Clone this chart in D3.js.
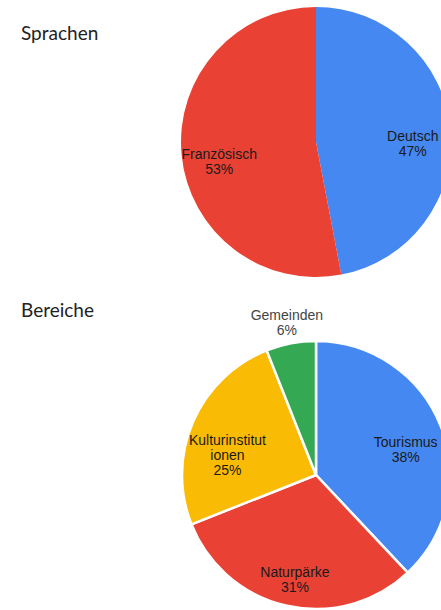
<!DOCTYPE html>
<html lang="de">
<head>
    <meta charset="utf-8">
    <script src="https://d3js.org/d3.v7.min.js"></script>
    <style>
        body { margin: 0; background: #fff; }
        .title { font-family: Lato, "Open Sans", sans-serif; font-size: 19px; fill: #222; }
        .slice-label { font-family: "Liberation Sans", Arial, sans-serif; font-size: 14px; fill: #1a1a1a; }
    </style>
</head>
<body>
    <svg id="chart" width="441" height="610"></svg>

    <script>
    // Sprachen
    const sprachenLabels = ["Deutsch", "Französisch"];
    const sprachenValues = [47, 53];

    // Bereiche
    const bereicheLabels = ["Tourismus", "Naturpärke", "Kulturinstitutionen", "Gemeinden"];
    const bereicheValues = [38, 31, 25, 6];

    const sliceColors = ["#4688f1", "#e94235", "#fabb05", "#34a853"];

    const svg = d3.select("#chart");

    // split long labels like google charts does (hard wrap by chars)
    function wrapLabel(name, maxChars) {
        const lines = [];
        for (let i = 0; i < name.length; i += maxChars) {
            lines.push(name.slice(i, i + maxChars));
        }
        return lines;
    }

    function drawPie(opts) {
        const { title, labels, values, cx, cy, r, titleY, strokeWidth } = opts;

        svg.append("text")
            .attr("class", "title")
            .attr("x", 21)
            .attr("y", titleY)
            .text(title);

        const data = labels.map((name, i) => ({ name: name, value: values[i] }));
        const total = d3.sum(values);

        const pie = d3.pie().sort(null).value(d => d.value);
        const arc = d3.arc().innerRadius(0).outerRadius(r);
        const labelArc = d3.arc().innerRadius(r * 0.72).outerRadius(r * 0.72);
        const outerArc = d3.arc().innerRadius(r * 1.16).outerRadius(r * 1.16);
        const color = d3.scaleOrdinal().domain(labels).range(sliceColors);

        const g = svg.append("g").attr("transform", `translate(${cx},${cy})`);

        g.selectAll("path")
            .data(pie(data))
            .enter().append("path")
            .attr("d", arc)
            .attr("fill", d => color(d.data.name))
            .attr("stroke", strokeWidth > 0 ? "#fff" : "none")
            .attr("stroke-width", strokeWidth);

        const lineH = 15;

        g.selectAll("text.slice-label")
            .data(pie(data))
            .enter().append("text")
            .attr("class", "slice-label")
            .attr("text-anchor", "middle")
            .each(function(d) {
                const pct = Math.round(d.data.value / total * 100);
                const lines = wrapLabel(d.data.name, 14).concat([pct + "%"]);
                const outside = pct < 10;
                const [x, y] = outside ? outerArc.centroid(d) : labelArc.centroid(d);
                // inside: first line just under the centroid; outside: whole block centred
                const y0 = outside ? y - (lines.length - 1) * lineH / 2 : y + 3;
                const t = d3.select(this);
                if (outside) t.style("fill", "#444");
                lines.forEach((line, i) => {
                    t.append("tspan")
                        .attr("x", x)
                        .attr("y", y0 + i * lineH)
                        .attr("dy", "0.35em")
                        .text(line);
                });
            });
    }

    drawPie({ title: "Sprachen", labels: sprachenLabels, values: sprachenValues,
              cx: 316, cy: 142, r: 135, titleY: 40, strokeWidth: 0 });

    drawPie({ title: "Bereiche", labels: bereicheLabels, values: bereicheValues,
              cx: 316, cy: 475, r: 134, titleY: 317, strokeWidth: 2.5 });
    </script>
</body>
</html>
